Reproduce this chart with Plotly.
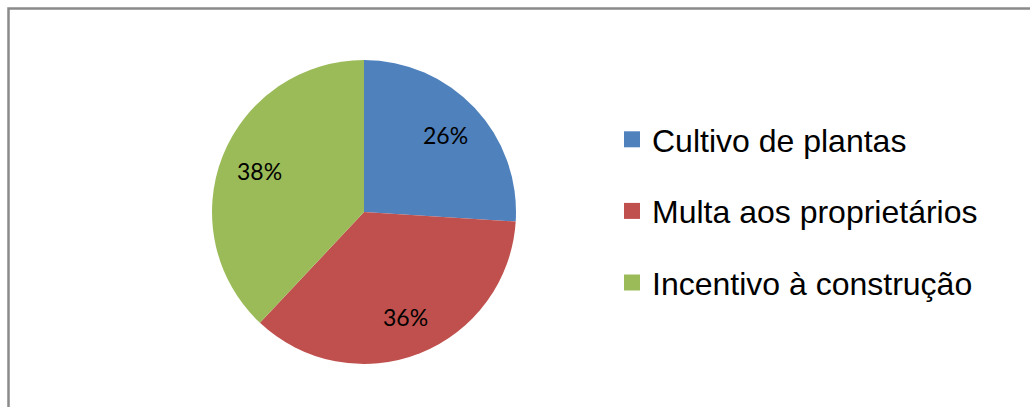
import math
import plotly.graph_objects as go

# Survey answers and their shares (%)
labels = ["Cultivo de plantas", "Multa aos proprietários", "Incentivo à construção"]
values = [26, 36, 38]
colors = ["#4F81BD", "#C0504D", "#9BBB59"]

W, H = 1030, 407
cx, cy, R = 364, 212, 152  # pie centre and radius in pixels

fig = go.Figure()

fig.add_trace(go.Pie(
    labels=labels,
    values=values,
    sort=False,
    direction="clockwise",
    rotation=0,
    marker=dict(colors=colors, line=dict(width=0)),
    textinfo="none",
    hoverinfo="label+percent",
    showlegend=False,
    domain=dict(x=[(cx - R) / W, (cx + R) / W],
                y=[(H - cy - R) / H, (H - cy + R) / H]),
))

# Percentage labels placed along each slice's bisector
total = sum(values)
cum = 0
for v in values:
    mid = (cum + v / 2) / total * 2 * math.pi
    cum += v
    r = 0.74 * R
    px = cx + r * math.sin(mid)
    py = cy - r * math.cos(mid)
    fig.add_annotation(
        x=px / W, y=(H - py) / H, xref="paper", yref="paper",
        xanchor="center", yanchor="middle",
        text=f"{round(v / total * 100)}%", showarrow=False,
        font=dict(family="Lato, Open Sans, sans-serif", size=23, color="#000000"),
    )

# Legend entries with square swatches, one group per category for spacing
for i, (lab, col) in enumerate(zip(labels, colors)):
    fig.add_trace(go.Scatter(
        x=[None], y=[None], mode="markers", name=lab,
        legendgroup=f"g{i}",
        marker=dict(symbol="square", size=16, color=col),
        hoverinfo="skip",
    ))

# Chart frame
fig.add_shape(type="rect", xref="paper", yref="paper",
              x0=8.5 / W, x1=1.05, y0=-0.05, y1=(H - 8.5) / H,
              line=dict(color="#8A8A8A", width=2.5), fillcolor="rgba(0,0,0,0)")

fig.update_layout(
    width=W, height=H,
    margin=dict(l=0, r=0, t=0, b=0),
    paper_bgcolor="#FFFFFF",
    plot_bgcolor="#FFFFFF",
    xaxis=dict(visible=False),
    yaxis=dict(visible=False),
    showlegend=True,
    legend=dict(
        x=612 / W, xanchor="left",
        y=(H - 112) / H, yanchor="top",
        font=dict(family="Liberation Sans, Arial, sans-serif", size=32, color="#000000"),
        tracegroupgap=27,
        itemsizing="trace",
        bgcolor="rgba(0,0,0,0)",
    ),
)

fig.write_html("out.html")
